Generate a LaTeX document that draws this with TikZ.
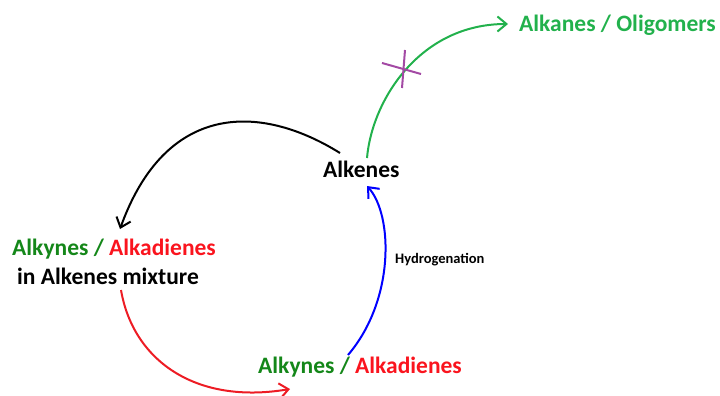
\documentclass[tikz,border=0pt]{standalone}
\usepackage{fontspec}
\setmainfont{Carlito}
\usetikzlibrary{arrows.meta}
\definecolor{dkgreen}{RGB}{20,135,25}
\definecolor{ltgreen}{RGB}{34,177,76}
\definecolor{txtred}{RGB}{250,20,30}
\definecolor{arrred}{RGB}{237,28,36}
\definecolor{crosspurple}{RGB}{163,73,164}
\tikzset{
  lbl/.style={inner sep=0pt, anchor=base west, font=\bfseries\fontsize{23.5}{28}\selectfont},
  small/.style={inner sep=0pt, anchor=base west, font=\bfseries\fontsize{14.5}{17}\selectfont},
  conn/.style={line width=2pt, -{Straight Barb[length=9pt,width=15pt,line width=2pt]}},
}
\begin{document}
\begin{tikzpicture}[x=1pt,y=-1pt]
\useasboundingbox (0,0) rectangle (720,396);
% texts
\node[lbl, text=ltgreen] (prod) at (519,32) {Alkanes / Oligomers};
\node[lbl] (alkenes) at (323,177) {Alkenes};
\node[lbl] (mix1) at (12,255) {\textcolor{dkgreen}{Alkynes /} \textcolor{txtred}{Alkadienes}};
\node[lbl] (mix2) at (17,284) {in Alkenes mixture};
\node[lbl] (feed) at (258,373) {\textcolor{dkgreen}{Alkynes /} \textcolor{txtred}{Alkadienes}};
\node[small] (hyd) at (395,263) {Hydrogenation};
% connector end points
\coordinate (bS) at (340,153);
\coordinate (bE) at (120,229);
\coordinate (rS) at (121,290);
\coordinate (rE) at (290,389);
\coordinate (uS) at (348,355);
\coordinate (uE) at (367,186);
\coordinate (gS) at (367,158);
\coordinate (gE) at (508,24);
% connectors
\draw[conn, black] (bS) .. controls (258,102) and (165,104) .. (bE);
\draw[conn, arrred] (rS) .. controls (133,360) and (195,405) .. (rE);
\draw[conn, blue] (uS) .. controls (395,300) and (393,215) .. (uE);
\draw[conn, ltgreen] (gS) .. controls (372,100) and (420,24) .. (gE);
% blocking cross
\coordinate (c1) at (382,63);
\coordinate (c2) at (421,74);
\coordinate (c3) at (405,50);
\coordinate (c4) at (402,88);
\draw[crosspurple, line width=2pt] (c1) -- (c2);
\draw[crosspurple, line width=2pt] (c3) -- (c4);
\end{tikzpicture}
\end{document}
